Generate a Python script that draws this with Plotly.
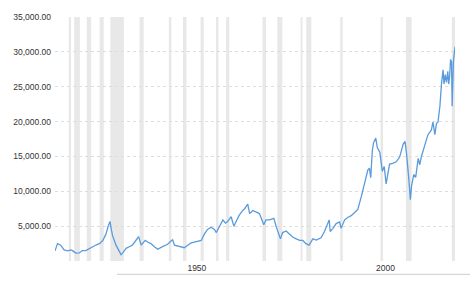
import plotly.graph_objects as go

# Dow Jones (inflation-adjusted) monthly readings
dates = [
    "1914-12", "1915-08", "1916-06", "1917-05", "1918-04", "1919-03", "1919-09",
    "1920-06", "1921-05", "1922-03", "1923-02", "1924-01", "1924-12", "1925-10",
    "1926-09", "1927-08", "1928-06", "1929-01", "1929-07", "1929-11", "1930-03",
    "1931-02", "1932-01", "1932-06", "1932-11", "1933-10", "1934-08", "1935-06",
    "1936-05", "1937-02", "1937-10", "1938-03", "1938-11", "1939-07", "1940-05",
    "1941-04", "1942-03", "1943-01", "1943-11", "1944-10", "1945-09", "1946-02",
    "1946-08", "1947-06", "1948-05", "1949-03", "1950-02", "1951-01", "1951-11",
    "1952-10", "1953-09", "1954-07", "1955-05", "1956-04", "1957-03", "1957-09",
    "1958-07", "1959-06", "1960-02", "1960-09", "1961-08", "1962-05", "1962-12",
    "1963-10", "1964-09", "1965-03", "1966-01", "1966-07", "1967-05", "1968-04",
    "1969-02", "1970-04", "1970-11", "1971-10", "1972-12", "1973-07", "1974-06",
    "1974-09", "1975-04", "1976-03", "1977-02", "1978-01", "1978-11", "1979-10",
    "1980-08", "1981-06", "1982-04", "1983-04", "1984-03", "1985-06", "1986-05",
    "1987-08", "1987-11", "1988-08", "1989-06", "1990-05", "1990-10", "1991-09",
    "1992-08", "1993-06", "1994-05", "1995-03", "1996-02", "1996-10", "1997-06",
    "1997-11", "1998-04", "1998-08", "1999-01", "1999-05", "1999-12", "2000-05",
    "2001-01", "2001-05", "2001-09", "2002-03", "2002-09", "2003-08", "2004-06",
    "2005-05", "2006-04", "2007-03", "2007-09", "2008-02", "2008-06", "2008-10",
    "2009-02", "2009-06", "2010-01", "2010-07", "2011-03", "2011-08", "2012-01",
    "2012-11", "2013-10", "2014-09", "2015-02", "2015-08", "2016-01", "2016-06",
    "2016-12", "2017-05", "2017-10", "2018-01", "2018-05", "2018-09", "2019-01",
    "2019-04", "2019-07", "2019-10", "2020-01", "2020-03", "2020-05", "2020-07",
    "2020-09", "2020-12",
]
values = [
    1450, 2490, 2270, 1590, 1450, 1600, 1450,
    1130, 1150, 1500, 1500, 1730, 2040, 2290,
    2490, 2940, 3850, 4990, 5670, 4540, 3630,
    2270, 1360, 910, 1130, 1810, 2040, 2270,
    2940, 3490, 2270, 2500, 2950, 2720, 2490,
    2040, 1680, 1950, 2130, 2400, 2860, 3040,
    2270, 2130, 2040, 1900, 2270, 2590, 2720,
    2810, 2950, 3850, 4530, 4850, 4530, 4080,
    4990, 5890, 5430, 5660, 6350, 4990, 5660,
    6570, 7250, 7500, 8160, 6800, 7250, 7030,
    6800, 5210, 5890, 5890, 6120, 4990, 3400,
    3170, 4080, 4310, 3850, 3400, 3170, 2950,
    2950, 2490, 2270, 3180, 3000, 3320, 4230,
    5900, 4230, 4680, 5360, 5590, 4680, 5910,
    6270, 6500, 6950, 7410, 9230, 10590, 11950,
    13090, 13320, 11950, 15820, 16950, 17640, 16270,
    15590, 14450, 12860, 13550, 11050, 13900, 14000,
    14230, 14910, 16730, 17180, 15360, 13580, 11310,
    8800, 10820, 12410, 11990, 14720, 13810, 14950,
    16310, 18120, 18800, 19940, 18120, 19710, 19940,
    22210, 25380, 27420, 25380, 26740, 25610, 27200,
    25380, 26510, 28920, 28560, 22210, 26290, 28560,
    29460, 30730,
]

# Recession periods (shaded bands)
rec_start = ["1918-08", "1920-01", "1923-05", "1926-10", "1929-08", "1937-05",
             "1945-02", "1948-11", "1953-07", "1957-08", "1960-04", "1969-12",
             "1973-11", "1980-01", "1981-07", "1990-07", "2001-03", "2007-12",
             "2020-02"]
rec_end = ["1919-03", "1921-07", "1924-07", "1927-11", "1933-03", "1938-06",
           "1945-10", "1949-10", "1954-05", "1958-04", "1961-02", "1970-11",
           "1975-03", "1980-07", "1982-11", "1991-03", "2001-11", "2009-06",
           "2020-12"]

y_ticks = [0, 5000, 10000, 15000, 20000, 25000, 30000, 35000]
y_labels = ["" if v == 0 else f"{v:,.2f}" for v in y_ticks]
x_ticks = ["1950-01-01", "2000-01-01"]
x_labels = ["1950", "2000"]

fig = go.Figure()

fig.add_trace(go.Scatter(x=dates, y=values, mode="lines",
                         line=dict(color="#5a9bdc", width=1.3), hoverinfo="skip"))

font = dict(family="Liberation Sans, Arial, sans-serif", size=8.5, color="#333333")
fig.update_layout(
    width=470, height=285,
    margin=dict(l=55, r=15, t=13, b=15),
    plot_bgcolor="white", paper_bgcolor="white",
    showlegend=False,
    font=font,
    xaxis=dict(range=["1914-12-01", "2020-12-01"], showgrid=False, zeroline=False,
               showline=False, ticks="", tickvals=x_ticks, ticktext=x_labels,
               ticklabelposition="outside right", tickfont=font),
    yaxis=dict(range=[0, 35000], tickvals=y_ticks, ticktext=y_labels,
               showgrid=True, gridcolor="#dddddd", griddash="3px,3px", gridwidth=1,
               zeroline=False, showline=False, ticks="", ticklabelstandoff=3,
               tickfont=font),
)

for s, e in zip(rec_start, rec_end):
    fig.add_vrect(x0=s, x1=e, fillcolor="#e8e8e8", opacity=1, line_width=0, layer="below")

fig.add_shape(type="line", xref="paper", yref="paper", x0=0.155, x1=1.04,
              y0=-0.0545, y1=-0.0545, line=dict(color="#cccccc", width=1))

fig.write_html("out.html")
